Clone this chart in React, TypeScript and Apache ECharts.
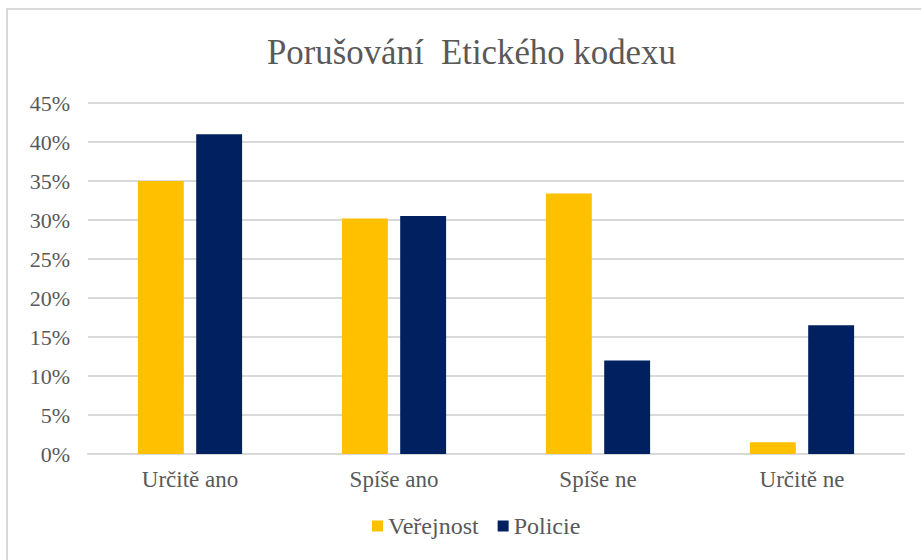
import React, { useEffect, useRef } from "react";
import * as echarts from "echarts";

const categories = ["Určitě ano", "Spíše ano", "Spíše ne", "Určitě ne"];
const verejnost = [0.35, 0.302, 0.334, 0.015];
const policie = [0.41, 0.305, 0.12, 0.165];
const seriesNames = ["Veřejnost", "Policie"];
const titleText = "Porušování  Etického kodexu";

const FONT = "Liberation Serif";
const GRAY = "#595959";

export default function App() {
  const ref = useRef<HTMLDivElement>(null);
  useEffect(() => {
    if (!ref.current) return;
    const chart = echarts.init(ref.current, undefined, { renderer: "svg" });
    chart.setOption({
      animation: false,
      backgroundColor: "#ffffff",
      textStyle: { fontFamily: FONT },
      title: {
        text: titleText,
        left: 262,
        top: 30,
        textStyle: { fontFamily: FONT, fontSize: 34.8, fontWeight: "normal", color: GRAY },
      },
      graphic: [
        {
          type: "rect",
          shape: { x: 7, y: 9, width: 1000, height: 1000 },
          style: { fill: "none", stroke: "#d9d9d9", lineWidth: 2 },
          silent: true,
        },
      ],
      legend: {
        data: seriesNames,
        bottom: 17,
        left: 367,
        itemWidth: 11,
        itemHeight: 11,
        itemGap: 19,
        icon: "rect",
        textStyle: { fontFamily: FONT, fontSize: 24, color: GRAY },
      },
      grid: { left: 88, right: 17, top: 103, bottom: 106, containLabel: false },
      xAxis: {
        type: "category",
        data: categories,
        axisLine: { lineStyle: { color: "#d9d9d9", width: 2 } },
        axisTick: { show: false },
        axisLabel: { fontFamily: FONT, fontSize: 23, color: GRAY, margin: 14 },
      },
      yAxis: {
        type: "value",
        min: 0,
        max: 0.45,
        interval: 0.05,
        axisLine: { show: false },
        axisTick: { show: false },
        splitLine: { lineStyle: { color: "#d9d9d9", width: 2 } },
        axisLabel: {
          fontFamily: FONT,
          fontSize: 22,
          color: GRAY,
          margin: 18,
          formatter: (v: number) => Math.round(v * 100) + "%",
        },
      },
      series: [
        {
          name: seriesNames[0],
          type: "bar",
          data: verejnost,
          itemStyle: { color: "#FFC000" },
          barWidth: "22.5%",
          barGap: "27%",
        },
        {
          name: seriesNames[1],
          type: "bar",
          data: policie,
          itemStyle: { color: "#002060" },
          barWidth: "22.5%",
          barGap: "27%",
        },
      ],
    });
    return () => chart.dispose();
  }, []);
  return (
    <div
      ref={ref}
      style={{ position: "fixed", left: 0, top: 0, width: 921, height: 560 }}
    />
  );
}
